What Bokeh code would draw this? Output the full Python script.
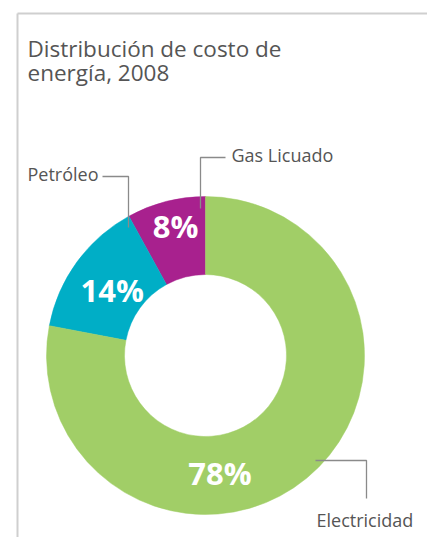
import math
from bokeh.plotting import figure
from bokeh.models import Range1d, ColumnDataSource
from bokeh.core.properties import value
from bokeh.embed import file_html
from bokeh.resources import INLINE

# ---- data ----
categories = ["Gas Licuado", "Petróleo", "Electricidad"]
shares = [8, 14, 78]
pct_labels = ["8%", "14%", "78%"]
colors = ["#A8218E", "#00AEC6", "#A1CE67"]
title_lines = ["Distribución de costo de", "energía, 2008"]

# ---- layout (page pixel coords, y measured downward) ----
W, H = 427, 537
CX, CY = 205, 355
R_OUT, R_IN = 159, 81
FONT = "Open Sans"
GRAY = "#555555"
TXT_SHIFT = 8  # baseline correction

def Y(img_y):
    return H - img_y

p = figure(width=W, height=H, output_backend="svg", toolbar_location=None,
           x_range=Range1d(0, W), y_range=Range1d(0, H), min_border=0,
           outline_line_color=None, background_fill_color="white")
p.axis.visible = False
p.grid.visible = False

# frame lines
p.line([17, 17], [Y(13), Y(H + 5)], line_color="#cfcfcf", line_width=2)
p.line([17, W + 5], [Y(13), Y(13)], line_color="#cfcfcf", line_width=2)

# wedges
total = float(sum(shares))
starts, ends = [], []
acc = 0.0
for s in shares:
    a0 = math.pi / 2 + 2 * math.pi * acc / total
    acc += s
    a1 = math.pi / 2 + 2 * math.pi * acc / total
    starts.append(a0)
    ends.append(a1)

src = ColumnDataSource(dict(cat=categories, start=starts, end=ends, color=colors))
p.annular_wedge(x=CX, y=Y(CY), inner_radius=R_IN, outer_radius=R_OUT,
                start_angle="start", end_angle="end", direction="anticlock",
                fill_color="color", line_color="color", line_width=0.5, source=src)

# percentage labels placed in polar layout (radius, angle in degrees)
label_polar = [(133, 103.0), (114, 145.0), (118, -83.0)]
lx, ly = [], []
for (r, ang) in label_polar:
    lx.append(CX + r * math.cos(math.radians(ang)))
    ly.append(Y(CY) + r * math.sin(math.radians(ang)))
p.text(x=lx, y=ly, text=pct_labels, text_color="white",
       text_font=value(FONT), text_font_style="bold", text_font_size="31px",
       text_align="center", text_baseline="alphabetic")

# title
p.text(x=[27, 27], y=[Y(56) + TXT_SHIFT, Y(80) + TXT_SHIFT], text=title_lines, text_color=GRAY,
       text_font=value(FONT), text_font_size="22.5px", text_baseline="alphabetic")

# category labels
cat_pos = {"Gas Licuado": (231, 162), "Petróleo": (27, 181), "Electricidad": (316, 527)}
p.text(x=[cat_pos[c][0] for c in categories],
       y=[Y(cat_pos[c][1]) + TXT_SHIFT for c in categories],
       text=categories, text_color=GRAY, text_font=value(FONT),
       text_font_size="18px", text_baseline="alphabetic")

# leader lines
LC = "#8a8a8a"
p.line([225, 200, 200], [Y(157), Y(157), Y(208)], line_color=LC, line_width=1.3)
p.line([102, 128, 128], [Y(176), Y(176), Y(227)], line_color=LC, line_width=1.3)
p.line([315, 366, 366], [Y(460), Y(460), Y(498)], line_color=LC, line_width=1.3)

open("out.html", "w").write(file_html(p, INLINE))
